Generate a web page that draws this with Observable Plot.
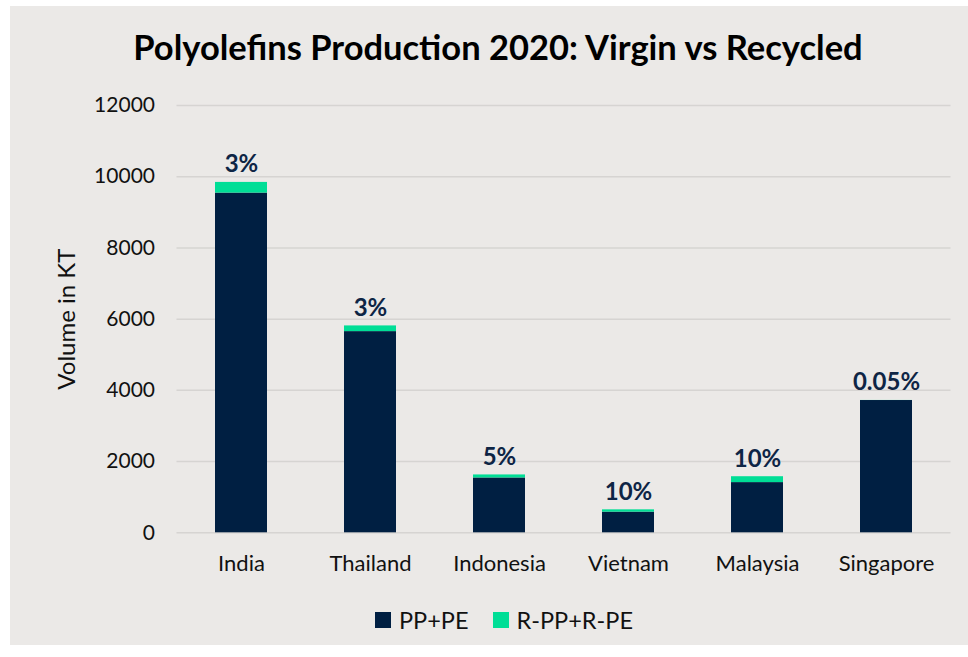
<!DOCTYPE html>
<html>
<head>
<meta charset="utf-8">
<script src="https://cdn.jsdelivr.net/npm/d3@7"></script>
<script src="https://cdn.jsdelivr.net/npm/@observablehq/plot@0.6"></script>
<style>
  html, body { margin: 0; padding: 0; background: #ffffff; }
  body { width: 968px; height: 657px; position: relative; overflow: hidden; font-family: Lato, "Open Sans", sans-serif; }
  #panel { position: absolute; left: 10px; top: 6px; width: 958px; height: 639px; background: #EBE9E7; }
  #title { position: absolute; left: 19px; width: 958px; top: 25px; text-align: center; font-size: 34.5px; font-weight: 700; color: #000; line-height: 44px; white-space: nowrap; }
  #chart { position: absolute; left: 0; top: 90px; }
  #legend { position: absolute; left: 375px; top: 606px; display: flex; align-items: center; font-size: 23.5px; color: #111; line-height: 28px; }
  .item { display: flex; align-items: center; margin-right: 24px; }
  .sw { width: 16px; height: 16px; margin-right: 8px; }
</style>
</head>
<body>
<div id="panel"></div>
<div id="title">Polyolefins Production 2020: Virgin vs Recycled</div>
<div id="chart"></div>
<div id="legend"></div>
<script>
const countries = ["India", "Thailand", "Indonesia", "Vietnam", "Malaysia", "Singapore"];
const virgin = [9540, 5650, 1540, 580, 1410, 3715];
const recycled = [300, 160, 85, 65, 165, 2];
const shareLabels = ["3%", "3%", "5%", "10%", "10%", "0.05%"];
const seriesNames = ["PP+PE", "R-PP+R-PE"];
const seriesColors = ["#001F42", "#00DE96"];
const yTicks = [0, 2000, 4000, 6000, 8000, 10000, 12000];
const yLabel = "Volume in KT";

const rows = [];
countries.forEach((c, i) => {
  rows.push({country: c, series: seriesNames[0], value: virgin[i]});
  rows.push({country: c, series: seriesNames[1], value: recycled[i]});
});
const totals = countries.map((c, i) => ({country: c, total: virgin[i] + recycled[i], label: shareLabels[i]}));

const plot = Plot.plot({
  width: 968,
  height: 490,
  marginLeft: 176.5,
  marginRight: 17.5,
  marginTop: 15,
  marginBottom: 47.7,
  style: {background: "transparent", fontFamily: "Lato, 'Open Sans', sans-serif", fontSize: "21px", color: "#111"},
  x: {domain: countries, paddingInner: 0.6, paddingOuter: 0.3},
  y: {domain: [0, 12000]},
  color: {domain: seriesNames, range: seriesColors},
  marks: [
    Plot.gridY(yTicks, {stroke: "#D6D4D2", strokeOpacity: 1, strokeWidth: 1.5}),
    Plot.axisY(yTicks, {tickSize: 0, tickPadding: 22, tickFormat: d => String(d), fontSize: 21, label: null}),
    Plot.axisY([], {tickSize: 0, fontSize: 24, label: yLabel, labelAnchor: "center", labelArrow: "none", labelOffset: 119}),
    Plot.axisX({tickSize: 0, tickPadding: 23, fontSize: 22, label: null}),
    Plot.barY(rows, {x: "country", y: "value", fill: "series", order: seriesNames}),
    Plot.text(totals, {x: "country", y: "total", text: "label", lineAnchor: "bottom", dy: -10,
      fontWeight: 700, fontSize: 24, fill: "#0E2545"})
  ]
});
document.getElementById("chart").appendChild(plot);

const legend = document.getElementById("legend");
seriesNames.forEach((name, i) => {
  const item = document.createElement("div");
  item.className = "item";
  const sw = document.createElement("div");
  sw.className = "sw";
  sw.style.background = seriesColors[i];
  const t = document.createElement("span");
  t.textContent = name;
  item.appendChild(sw);
  item.appendChild(t);
  legend.appendChild(item);
});
</script>
</body>
</html>
